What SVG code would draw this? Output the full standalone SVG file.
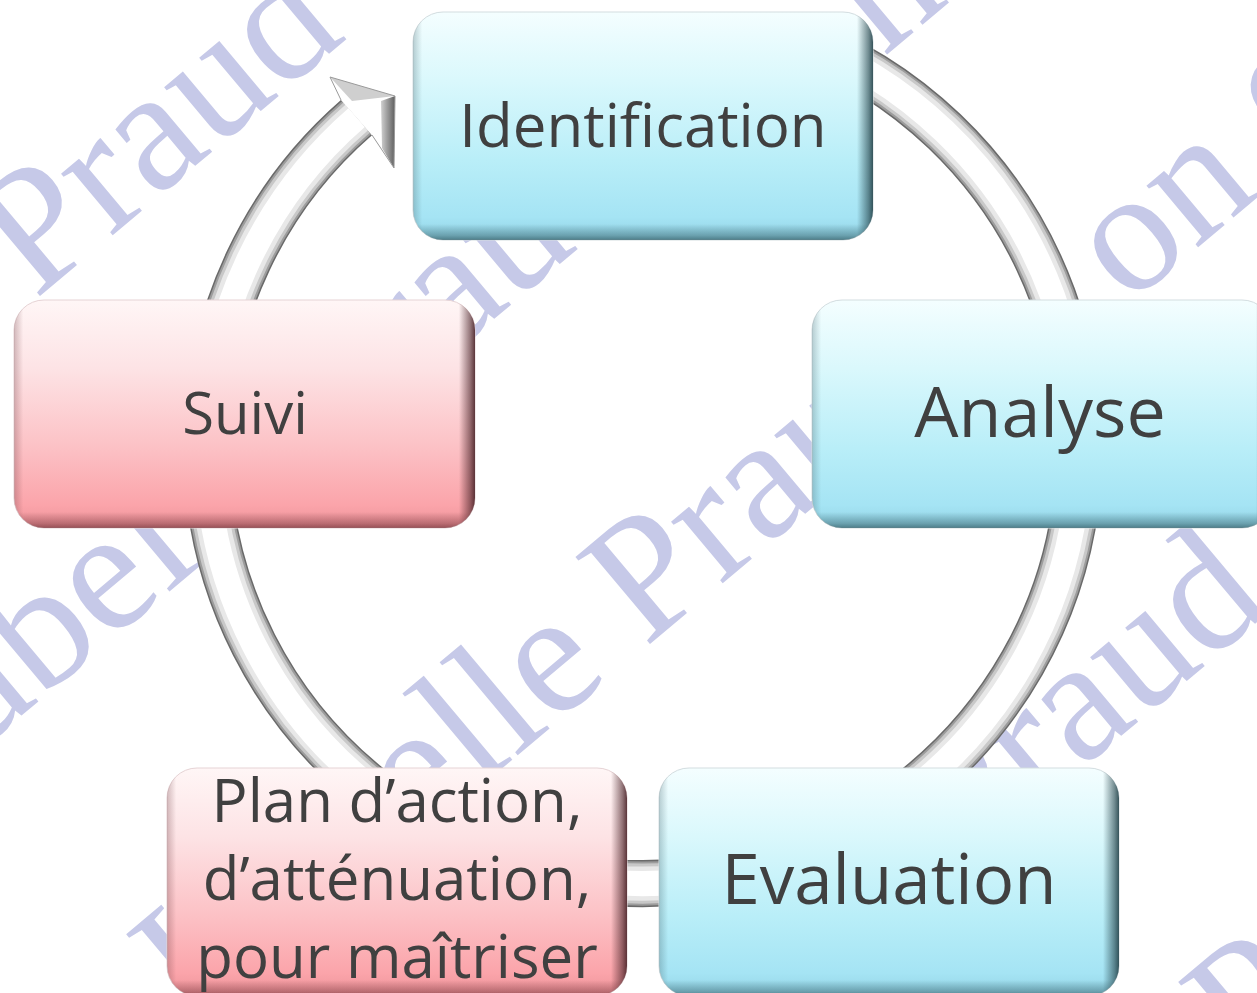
<svg xmlns="http://www.w3.org/2000/svg" xmlns:xlink="http://www.w3.org/1999/xlink" width="1257" height="993" viewBox="0 0 1257 993">
<style>
.wm{font-family:"Liberation Serif","Times New Roman",serif;font-size:175px;fill:#c6c9e8}
.lbl{font-family:"Open Sans","Liberation Sans",sans-serif;fill:#404040;text-anchor:middle}
.ring{fill:none}
.r1{stroke:#6a6a6a;stroke-width:47}
.r2{stroke:#9c9c9c;stroke-width:44}
.r3{stroke:#c8c8c8;stroke-width:40}
.r4{stroke:#e8e8e8;stroke-width:34}
.r5{stroke:#ffffff;stroke-width:25}
.blue{fill:url(#gBlue);stroke:#d3dde0;stroke-width:1}
.pink{fill:url(#gPink);stroke:#e6d3d5;stroke-width:1}
</style>
<defs>
<linearGradient id="gBlue" x1="0" y1="0" x2="0" y2="1">
<stop offset="0" stop-color="#f4feff"/>
<stop offset="0.3" stop-color="#daf8fc"/>
<stop offset="0.65" stop-color="#b9eef8"/>
<stop offset="0.9" stop-color="#a5e4f4"/>
<stop offset="1" stop-color="#93d3e4"/>
</linearGradient>
<linearGradient id="gPink" x1="0" y1="0" x2="0" y2="1">
<stop offset="0" stop-color="#fff6f6"/>
<stop offset="0.3" stop-color="#fde3e5"/>
<stop offset="0.65" stop-color="#fcc1c5"/>
<stop offset="0.9" stop-color="#fba4aa"/>
<stop offset="1" stop-color="#ec9399"/>
</linearGradient>
<linearGradient id="eRb" x1="0" y1="0" x2="1" y2="0">
<stop offset="0" stop-color="#3f5f68" stop-opacity="0.3"/>
<stop offset="0.02" stop-color="#3f5f68" stop-opacity="0"/>
<stop offset="0.965" stop-color="#24434a" stop-opacity="0"/>
<stop offset="0.99" stop-color="#24434a" stop-opacity="0.6"/>
<stop offset="1" stop-color="#24434a" stop-opacity="0.9"/>
</linearGradient>
<linearGradient id="eBb" x1="0" y1="0" x2="0" y2="1">
<stop offset="0.93" stop-color="#35606a" stop-opacity="0"/>
<stop offset="0.98" stop-color="#35606a" stop-opacity="0.45"/>
<stop offset="1" stop-color="#35606a" stop-opacity="0.75"/>
</linearGradient>
<linearGradient id="eRp" x1="0" y1="0" x2="1" y2="0">
<stop offset="0" stop-color="#6a3a40" stop-opacity="0.3"/>
<stop offset="0.02" stop-color="#6a3a40" stop-opacity="0"/>
<stop offset="0.965" stop-color="#4a2328" stop-opacity="0"/>
<stop offset="0.99" stop-color="#4a2328" stop-opacity="0.6"/>
<stop offset="1" stop-color="#4a2328" stop-opacity="0.9"/>
</linearGradient>
<linearGradient id="eBp" x1="0" y1="0" x2="0" y2="1">
<stop offset="0.93" stop-color="#7a3a40" stop-opacity="0"/>
<stop offset="0.98" stop-color="#7a3a40" stop-opacity="0.45"/>
<stop offset="1" stop-color="#7a3a40" stop-opacity="0.75"/>
</linearGradient>
<linearGradient id="face" x1="0" y1="0" x2="1" y2="0">
<stop offset="0" stop-color="#d0d0d0"/>
<stop offset="1" stop-color="#5e5e5e"/>
</linearGradient>
<path id="ringPath" d="M 792.3 36.8 A 436.5 436.5 0 1 1 356.6 117.6"/>
</defs>

<rect x="0" y="0" width="1257" height="993" fill="#ffffff"/>

<g id="watermark">
<text class="wm" transform="translate(-415,678) rotate(-40)">Isabelle Praud</text>
<text class="wm" transform="translate(-116,831) rotate(-40)">Isabelle Praud</text>
<text class="wm" transform="translate(195,1026) rotate(-40)">Isabelle Praud</text>
<text class="wm" transform="translate(511,1248) rotate(-40)">Isabelle Praud</text>
<text class="wm" transform="translate(1128,306) rotate(-40)">on</text>
<text class="wm" transform="translate(1284,150) rotate(-40)">c</text>
<text class="wm" transform="translate(884,57) rotate(-40)">n</text>
<text class="wm" transform="translate(1248,1073) rotate(-40)">Praud</text>
</g>

<g id="connectors">
<use xlink:href="#ringPath" class="ring r1"/>
<use xlink:href="#ringPath" class="ring r2"/>
<use xlink:href="#ringPath" class="ring r3"/>
<use xlink:href="#ringPath" class="ring r4"/>
<use xlink:href="#ringPath" class="ring r5"/>
<polygon points="341,100 330,77 395,96 394,168 372,135" fill="#ffffff"/>
<polygon points="330,77 395,96 352,101" fill="#cfcfcf"/>
<polygon points="381,101 395,96 394,168 382,148" fill="url(#face)"/>
<polyline points="341,100 330,77 395,96 394,168 372,135" fill="none" stroke="#9a9a9a" stroke-width="1"/>
</g>

<g id="node-identification">
<rect class="blue" x="413" y="12" width="460" height="228" rx="30"/>
<rect x="413" y="12" width="460" height="228" rx="30" fill="url(#eRb)"/>
<rect x="413" y="12" width="460" height="228" rx="30" fill="url(#eBb)"/>
<text class="lbl" x="643" y="147" font-size="60">Identification</text>
</g>

<g id="node-analyse">
<rect class="blue" x="812" y="300" width="460" height="228" rx="30"/>
<rect x="812" y="300" width="460" height="228" rx="30" fill="url(#eRb)"/>
<rect x="812" y="300" width="460" height="228" rx="30" fill="url(#eBb)"/>
<text class="lbl" x="1040" y="437" font-size="70">Analyse</text>
</g>

<g id="node-evaluation">
<rect class="blue" x="659" y="768" width="460" height="228" rx="30"/>
<rect x="659" y="768" width="460" height="228" rx="30" fill="url(#eRb)"/>
<rect x="659" y="768" width="460" height="228" rx="30" fill="url(#eBb)"/>
<text class="lbl" x="889" y="904" font-size="69">Evaluation</text>
</g>

<g id="node-plan">
<rect class="pink" x="167" y="768" width="460" height="228" rx="30"/>
<rect x="167" y="768" width="460" height="228" rx="30" fill="url(#eRp)"/>
<rect x="167" y="768" width="460" height="228" rx="30" fill="url(#eBp)"/>
<text class="lbl" x="397" font-size="60"><tspan x="397" y="822">Plan d’action,</tspan><tspan x="397" y="900">d’atténuation,</tspan><tspan x="397" y="978">pour maîtriser</tspan></text>
</g>

<g id="node-suivi">
<rect class="pink" x="14" y="300" width="461" height="228" rx="30"/>
<rect x="14" y="300" width="461" height="228" rx="30" fill="url(#eRp)"/>
<rect x="14" y="300" width="461" height="228" rx="30" fill="url(#eBp)"/>
<text class="lbl" x="245" y="434" font-size="58">Suivi</text>
</g>
</svg>
